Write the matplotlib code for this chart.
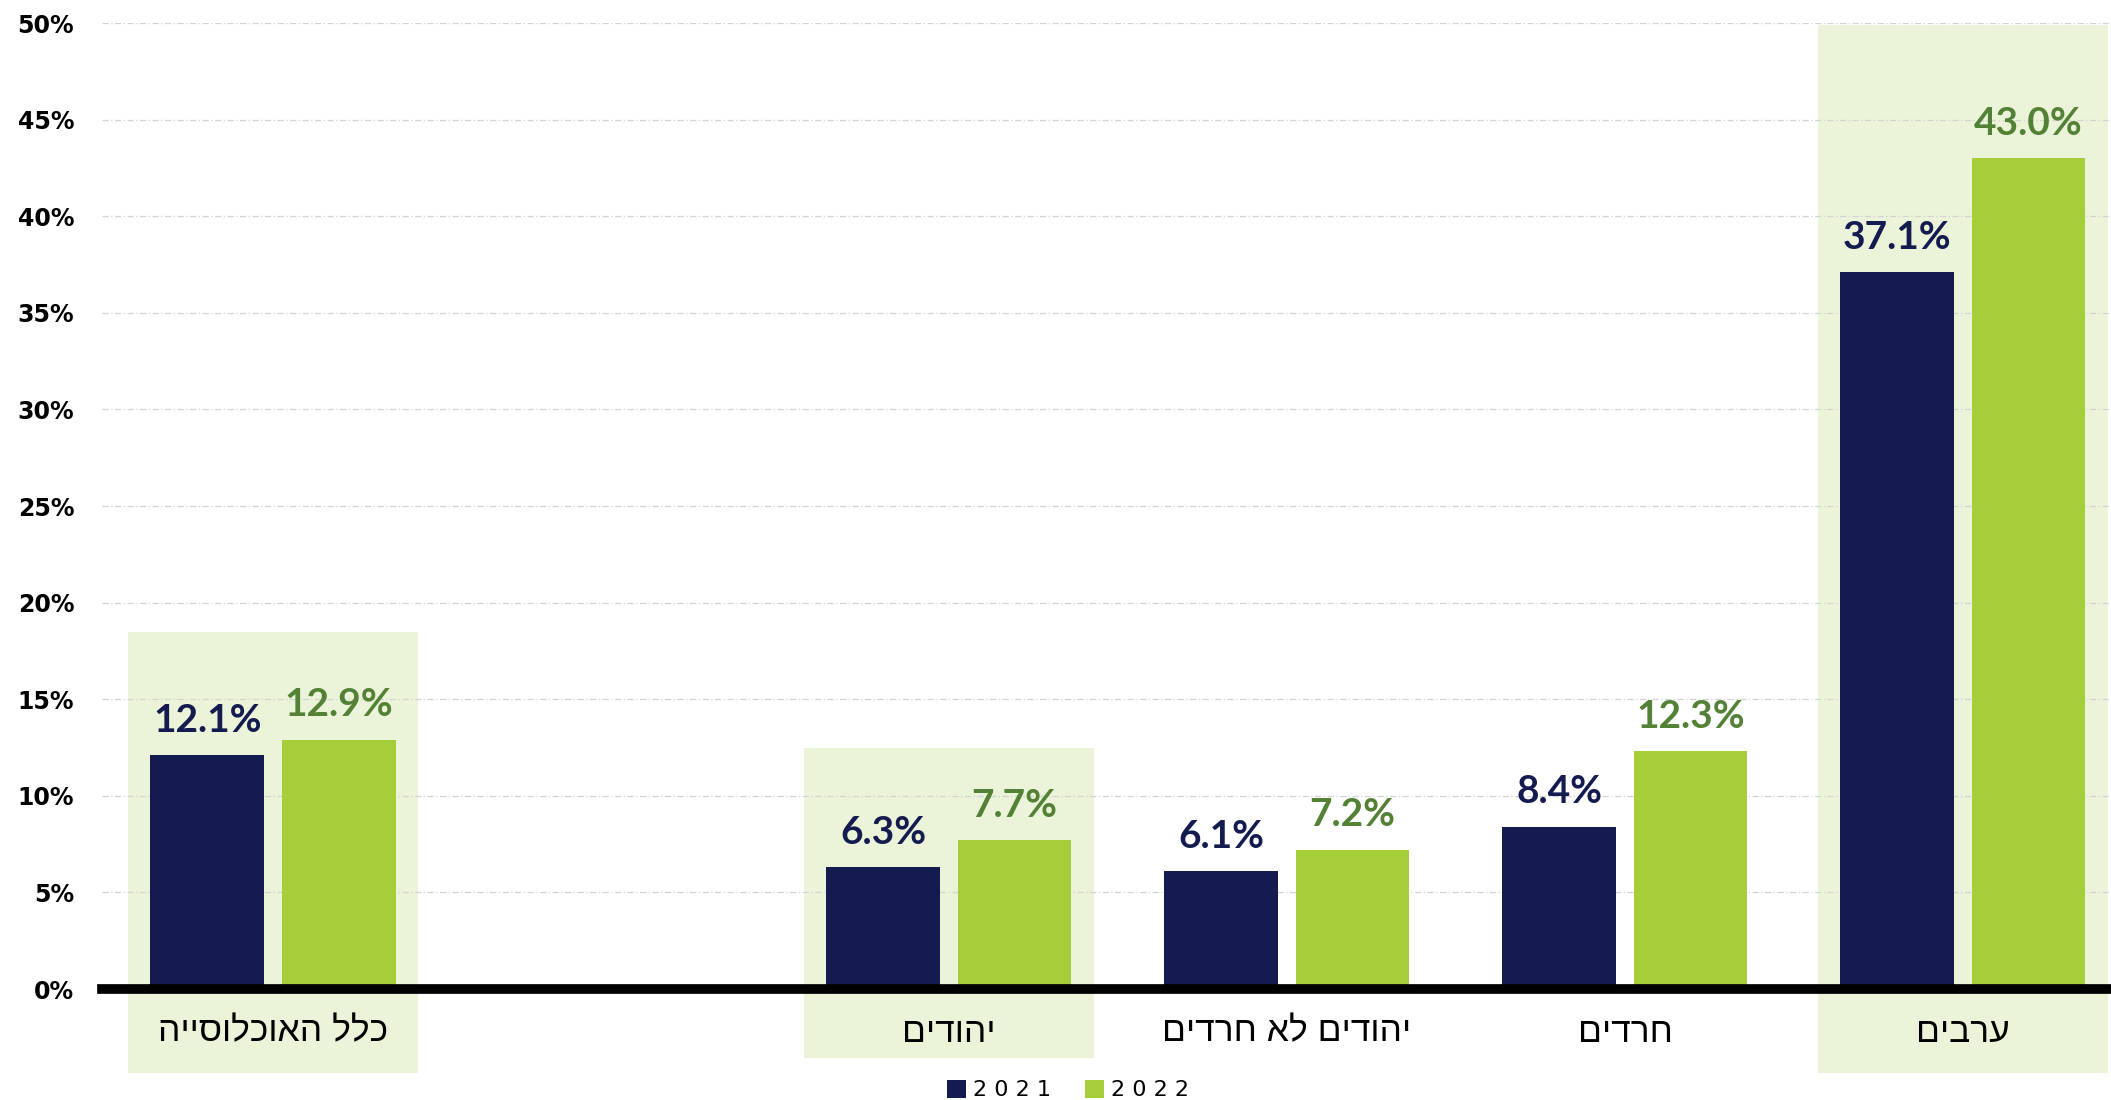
import numpy as np
import matplotlib
matplotlib.use("Agg")
import matplotlib.pyplot as plt
from matplotlib.patches import Rectangle, Patch

# categories as they appear left to right (one empty slot between groups)
categories = ["כלל האוכלוסייה", "", "יהודים", "יהודים לא חרדים", "חרדים", "ערבים"]
years = ["2021", "2022"]
vals_2021 = [12.1, np.nan, 6.3, 6.1, 8.4, 37.1]
vals_2022 = [12.9, np.nan, 7.7, 7.2, 12.3, 43.0]
yticks = list(range(0, 55, 5))

NAVY = "#141B4F"
GREEN = "#A6CE39"
GREEN_TXT = "#538135"
SHADE = "#EBF4D8"

fig = plt.figure(figsize=(21.11, 11), dpi=100)
ax = fig.add_axes([0.0483, 0.1009, 1 - 0.0483, 0.979 - 0.1009])

x = np.arange(len(categories))
w = 0.337
off = 0.194

# shaded boxes behind the highlighted groups: (index, top, bottom)
shades = [(0, 18.5, -4.35), (2, 12.5, -3.57), (5, 49.9, -4.35)]
for i, top, bot in shades:
    ax.add_patch(Rectangle((i - 0.43, bot), 0.86, top - bot, facecolor=SHADE,
                           edgecolor="none", zorder=0, clip_on=False))

ax.set_ylim(0, 50)
ax.set_xlim(-0.506, 5.438)
ax.set_yticks(yticks)
ax.set_yticklabels([f"{t}%" for t in yticks], fontfamily="DejaVu Sans",
                   fontweight="heavy", fontsize=17)
ax.tick_params(axis="y", length=0, pad=20)
ax.set_xticks([])
for t in yticks[1:]:
    ax.axhline(t, color="#D3D3D3", lw=0.9, ls=(0, (5, 2, 1, 2)), zorder=0.5)

b1 = ax.bar(x - off, vals_2021, w, color=NAVY, zorder=2)
b2 = ax.bar(x + off, vals_2022, w, color=GREEN, zorder=2)

for xs, vs, col in [(x - off, vals_2021, NAVY), (x + off, vals_2022, GREEN_TXT)]:
    for xi, v in zip(xs, vs):
        if np.isnan(v):
            continue
        ax.annotate(f"{v:.1f}%", (xi, v), xytext=(0, 17), textcoords="offset points",
                    ha="center", va="baseline", fontfamily="Lato",
                    fontweight="bold", fontsize=28, color=col, zorder=3)

# matplotlib has no bidi support, so Hebrew is reversed for display
for xi, name in zip(x, categories):
    if name:
        ax.annotate(name[::-1], (xi, 0), xytext=(0, -31), textcoords="offset points",
                    ha="center", va="center", fontsize=25.5,
                    fontfamily=["Liberation Sans", "DejaVu Sans"], annotation_clip=False)

ax.axhline(0, color="black", lw=7, zorder=4, clip_on=False)
for s in ax.spines.values():
    s.set_visible(False)

handles = [Patch(facecolor=c, label=" ".join(y)) for c, y in zip([NAVY, GREEN], years)]
fig.legend(handles=handles, loc="center", bbox_to_anchor=(0.506, 0.009), ncol=2,
           frameon=False, prop={"family": "DejaVu Sans", "size": 16, "weight": "medium"},
           handlelength=0.85, handleheight=0.85, handletextpad=0.35, columnspacing=1.5)

fig.savefig("out.png", dpi=100)
